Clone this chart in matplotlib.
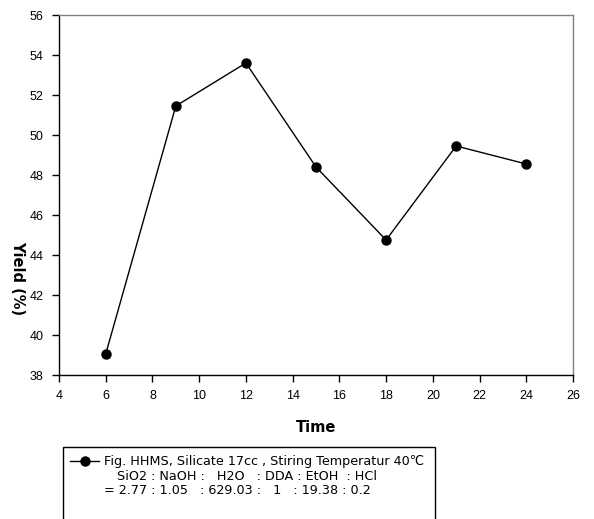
import matplotlib.pyplot as plt
from matplotlib.lines import Line2D
from matplotlib.patches import Rectangle

# Data
time = [6, 9, 12, 15, 18, 21, 24]
yield_pct = [39.05, 51.45, 53.6, 48.4, 44.75, 49.45, 48.55]

x_ticks = list(range(4, 27, 2))
y_ticks = list(range(38, 57, 2))

legend_lines = [
    "Fig. HHMS, Silicate 17cc , Stiring Temperatur 40\u2103",
    "SiO2 : NaOH :   H2O   : DDA : EtOH  : HCl",
    "= 2.77 : 1.05   : 629.03 :   1   : 19.38 : 0.2",
]

W, H = 594, 519
fig = plt.figure(figsize=(W / 100, H / 100), dpi=100)
ax = fig.add_axes([59 / W, 1 - 375 / H, (573 - 59) / W, (375 - 15) / H])

ax.plot(time, yield_pct, color='black', linewidth=1, marker='o',
        markersize=6.5, markerfacecolor='black', markeredgecolor='black')

ax.set_xlim(4, 26)
ax.set_ylim(38, 56)
ax.set_xticks(x_ticks)
ax.set_yticks(y_ticks)
ax.tick_params(direction='out', length=5, width=1, labelsize=9, pad=6)
for lab in ax.get_xticklabels() + ax.get_yticklabels():
    lab.set_fontfamily('Liberation Sans')

for side in ['top', 'right']:
    ax.spines[side].set_color('#808080')
for side in ['left', 'bottom']:
    ax.spines[side].set_color('black')
for sp in ax.spines.values():
    sp.set_linewidth(1)

fig.text(316 / W, 1 - 428 / H, 'Time', ha='center', va='center',
         fontsize=10.5, fontweight='bold', family='DejaVu Sans')
fig.text(18 / W, 1 - 278 / H, 'Yield (%)', ha='center', va='center',
         rotation=-90, fontsize=10.5, fontweight='bold', family='DejaVu Sans')

# Legend box drawn by hand (bottom edge runs off the picture)
fig.add_artist(Rectangle((63 / W, 1 - 530 / H), (435 - 63) / W, (530 - 447) / H,
                         transform=fig.transFigure, facecolor='white',
                         edgecolor='black', linewidth=1))
fig.add_artist(Line2D([70 / W, 99 / W], [1 - 461 / H, 1 - 461 / H],
                      transform=fig.transFigure, color='black', linewidth=1))
fig.add_artist(Line2D([84.5 / W], [1 - 461 / H], transform=fig.transFigure,
                      marker='o', markersize=6.5, color='black'))
fam = ['DejaVu Sans', 'Noto Sans CJK SC']
fig.text(104 / W, 1 - 461 / H, legend_lines[0], ha='left', va='center',
         fontsize=9.2, family=fam)
fig.text(117 / W, 1 - 476 / H, legend_lines[1], ha='left', va='center',
         fontsize=9.2, family=fam)
fig.text(104 / W, 1 - 491 / H, legend_lines[2], ha='left', va='center',
         fontsize=9.2, family=fam)

fig.savefig('out.png', dpi=100)
